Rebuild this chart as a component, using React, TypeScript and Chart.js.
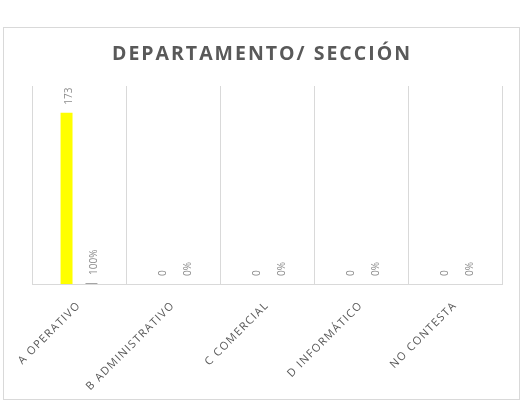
import React, { useEffect, useRef } from "react";
import { Chart, registerables } from "chart.js";

Chart.register(...registerables);

const categories = ["A OPERATIVO", "B ADMINISTRATIVO", "C COMERCIAL", "D INFORMÁTICO", "NO CONTESTA"];
const counts = [173, 0, 0, 0, 0];
const shares = [1, 0, 0, 0, 0];
const title = "DEPARTAMENTO/ SECCIÓN";

const FONT = "'Open Sans', 'Noto Sans', sans-serif";

const framePlugin = {
  id: "frame",
  beforeDraw(chart: any) {
    const ctx = chart.ctx;
    ctx.save();
    ctx.fillStyle = "#ffffff";
    ctx.fillRect(0, 0, chart.width, chart.height);
    ctx.strokeStyle = "#d9d9d9";
    ctx.lineWidth = 1;
    ctx.strokeRect(3.5, 27.5, 516, 372);
    ctx.restore();
    (ctx as any).letterSpacing = "1.3px";
  },
  afterDraw(chart: any) {
    const ctx = chart.ctx;
    ctx.save();
    (ctx as any).letterSpacing = "2px";
    ctx.fillStyle = "#595959";
    ctx.font = `bold 19.5px ${FONT}`;
    ctx.textAlign = "center";
    ctx.textBaseline = "middle";
    ctx.fillText(title, 262, 54);
    ctx.restore();
    (ctx as any).letterSpacing = "0px";
  },
};

const labelPlugin = {
  id: "barLabels",
  afterDatasetsDraw(chart: any) {
    const ctx = chart.ctx;
    ctx.save();
    (ctx as any).letterSpacing = "0px";
    ctx.fillStyle = "#8c8c8c";
    ctx.font = `10px ${FONT}`;
    ctx.textAlign = "left";
    ctx.textBaseline = "alphabetic";
    chart.data.datasets.forEach((ds: any, di: number) => {
      const meta = chart.getDatasetMeta(di);
      meta.data.forEach((bar: any, i: number) => {
        const v = ds.data[i];
        const text = di === 0 ? String(v) : `${Math.round(v * 100)}%`;
        ctx.save();
        ctx.translate(bar.x, bar.y - 8);
        ctx.rotate(-Math.PI / 2);
        ctx.fillText(text, 0, 5.5);
        ctx.restore();
      });
    });
    ctx.restore();
  },
};

export default function App() {
  const ref = useRef<HTMLCanvasElement | null>(null);
  useEffect(() => {
    if (!ref.current) return;
    const chart = new Chart(ref.current, {
      type: "bar",
      data: {
        labels: categories,
        datasets: [
          {
            label: "Cantidad",
            data: counts,
            backgroundColor: "#ffff00",
            categoryPercentage: 0.53,
            barPercentage: 0.48,
          },
          {
            label: "Porcentaje",
            data: shares,
            backgroundColor: "#a5a5a5",
            categoryPercentage: 0.53,
            barPercentage: 0.48,
          },
        ],
      },
      options: {
        responsive: false,
        animation: false,
        devicePixelRatio: 1,
        layout: { padding: { left: 32, right: 30, top: 86, bottom: 0 } },
        plugins: {
          legend: { display: false },
          title: { display: false },
          tooltip: { enabled: false },
        },
        scales: {
          x: {
            grid: { color: "#d9d9d9", drawTicks: false, offset: true },
            border: { color: "#d9d9d9" },
            ticks: {
              color: "#595959",
              font: { family: FONT, size: 11 },
              minRotation: 45,
              maxRotation: 45,
              padding: 15,
              autoSkip: false,
            },
            afterFit(scale: any) {
              scale.height = 119;
            },
          },
          y: {
            display: false,
            min: 0,
            max: 200,
          },
        },
      },
      plugins: [framePlugin, labelPlugin],
    });
    return () => chart.destroy();
  }, []);
  return (
    <div style={{ position: "fixed", left: 0, top: 0, width: 532, height: 403, background: "#fff" }}>
      <canvas ref={ref} width={532} height={403} style={{ width: 532, height: 403, display: "block" }} />
    </div>
  );
}
